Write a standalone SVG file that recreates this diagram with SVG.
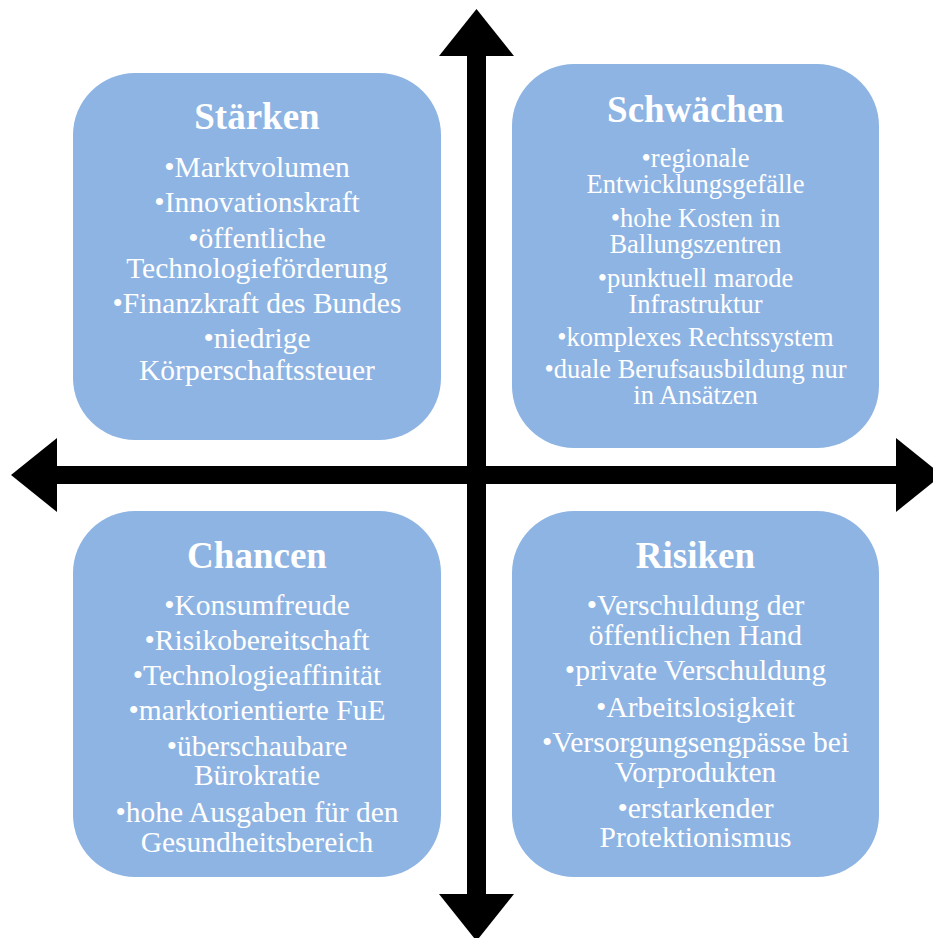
<svg xmlns="http://www.w3.org/2000/svg" width="933" height="938" viewBox="0 0 933 938">
<style>
.box{fill:#8EB4E3;}
.t{font-family:"Liberation Serif","Times New Roman",serif;fill:#FFFFFF;text-anchor:middle;}
.h{font-size:37px;font-weight:bold;}
.b{font-size:29.5px;}
.s{font-size:26.5px;}
.ax{fill:#000000;}
</style>
<rect width="933" height="938" fill="#FFFFFF"/>
<g id="connectors">
<rect class="ax" x="467" y="55" width="19" height="840"/>
<rect class="ax" x="56" y="466" width="841" height="18"/>
<polygon class="ax" points="476.5,9 439,56 514,56"/>
<polygon class="ax" points="439,894 514,894 476.5,941"/>
<polygon class="ax" points="11,475 57,438 57,512"/>
<polygon class="ax" points="896,438 896,512 942,475"/>
</g>
<g id="staerken" font-family="Liberation Serif, serif">
<rect class="box" x="73" y="73" width="368" height="367" rx="62" ry="62"/>
<text class="t h" x="257" y="129">Stärken</text>
<text class="t b" x="257" y="177">•Marktvolumen</text>
<text class="t b" x="257" y="212">•Innovationskraft</text>
<text class="t b" x="257" y="248">•öffentliche</text>
<text class="t b" x="257" y="278">Technologieförderung</text>
<text class="t b" x="257" y="313">•Finanzkraft des Bundes</text>
<text class="t b" x="257" y="348">•niedrige</text>
<text class="t b" x="257" y="380">Körperschaftssteuer</text>
</g>
<g id="schwaechen" font-family="Liberation Serif, serif">
<rect class="box" x="512" y="64" width="367" height="384" rx="62" ry="62"/>
<text class="t h" x="695.5" y="122">Schwächen</text>
<text class="t s" x="695.5" y="167">•regionale</text>
<text class="t s" x="695.5" y="193">Entwicklungsgefälle</text>
<text class="t s" x="695.5" y="227">•hohe Kosten in</text>
<text class="t s" x="695.5" y="253">Ballungszentren</text>
<text class="t s" x="695.5" y="287">•punktuell marode</text>
<text class="t s" x="695.5" y="313">Infrastruktur</text>
<text class="t s" x="695.5" y="346">•komplexes Rechtssystem</text>
<text class="t s" x="695.5" y="378">•duale Berufsausbildung nur</text>
<text class="t s" x="695.5" y="404">in Ansätzen</text>
</g>
<g id="chancen" font-family="Liberation Serif, serif">
<rect class="box" x="73" y="511" width="368" height="366" rx="62" ry="62"/>
<text class="t h" x="257" y="568">Chancen</text>
<text class="t b" x="257" y="615">•Konsumfreude</text>
<text class="t b" x="257" y="650">•Risikobereitschaft</text>
<text class="t b" x="257" y="685">•Technologieaffinität</text>
<text class="t b" x="257" y="720">•marktorientierte FuE</text>
<text class="t b" x="257" y="756">•überschaubare</text>
<text class="t b" x="257" y="785">Bürokratie</text>
<text class="t b" x="257" y="822">•hohe Ausgaben für den</text>
<text class="t b" x="257" y="852">Gesundheitsbereich</text>
</g>
<g id="risiken" font-family="Liberation Serif, serif">
<rect class="box" x="512" y="511" width="367" height="366" rx="62" ry="62"/>
<text class="t h" x="695.5" y="568">Risiken</text>
<text class="t b" x="695.5" y="615">•Verschuldung der</text>
<text class="t b" x="695.5" y="645">öffentlichen Hand</text>
<text class="t b" x="695.5" y="680">•private Verschuldung</text>
<text class="t b" x="695.5" y="717">•Arbeitslosigkeit</text>
<text class="t b" x="695.5" y="752">•Versorgungsengpässe bei</text>
<text class="t b" x="695.5" y="782">Vorprodukten</text>
<text class="t b" x="695.5" y="818">•erstarkender</text>
<text class="t b" x="695.5" y="847">Protektionismus</text>
</g>
</svg>
